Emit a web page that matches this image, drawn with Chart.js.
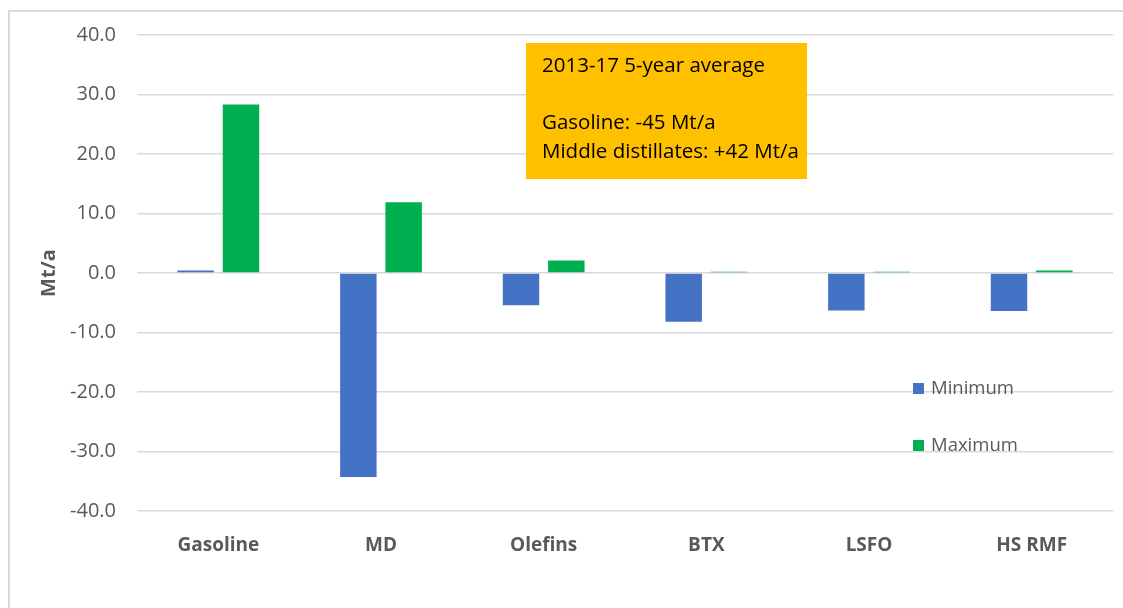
<!DOCTYPE html>
<html>
<head>
<meta charset="utf-8">
<script src="https://cdn.jsdelivr.net/npm/chart.js@4.4.0/dist/chart.umd.min.js"></script>
<style>
  html, body { margin: 0; padding: 0; background: #fff; }
</style>
</head>
<body>
<canvas id="chart" width="1123" height="608"></canvas>
<script>
// product balance swing, Mt/a
var categories = ['Gasoline', 'MD', 'Olefins', 'BTX', 'LSFO', 'HS RMF'];
var minimumValues = [0.4, -34.3, -5.4, -8.2, -6.3, -6.4];
var maximumValues = [28.3, 11.9, 2.1, 0.2, 0.2, 0.4];
var seriesNames = ['Minimum', 'Maximum'];
var yTickValues = [-40, -30, -20, -10, 0, 10, 20, 30, 40];
var axisTitle = 'Mt/a';
var noteLines = ['2013-17 5-year average', '', 'Gasoline: -45 Mt/a', 'Middle distillates: +42 Mt/a'];

var GREY_TEXT = '#595959';
var GRID = '#d9d9d9';
var FONT = "'Open Sans', sans-serif";

// frame, note box and legend drawn on top of the chart
var extras = {
    id: 'extras',
    beforeDraw: function (chart) {
        var c = chart.ctx;
        c.save();
        c.fillStyle = '#fff';
        c.fillRect(0, 0, chart.width, chart.height);
        c.strokeStyle = GRID;
        c.lineWidth = 2;
        c.beginPath();
        c.moveTo(9, chart.height);
        c.lineTo(9, 11);
        c.lineTo(chart.width, 11);
        c.stroke();
        c.restore();
    },
    afterDraw: function (chart) {
        var c = chart.ctx;
        c.save();
        // note box
        c.fillStyle = '#FFC000';
        c.fillRect(526, 43, 281, 136);
        c.fillStyle = '#000';
        c.font = '20.5px ' + FONT;
        c.textBaseline = 'alphabetic';
        c.textAlign = 'left';
        noteLines.forEach(function (line, i) {
            c.fillText(line, 542, 72 + i * 28.5);
        });
        // legend
        c.font = '18.5px ' + FONT;
        chart.data.datasets.forEach(function (ds, i) {
            var y = 389 + i * 57;
            c.fillStyle = ds.backgroundColor;
            c.fillRect(913, y - 6, 11, 11);
            c.fillStyle = GREY_TEXT;
            c.textBaseline = 'middle';
            c.fillText(ds.label, 931, y);
        });
        c.restore();
    }
};

var ctx = document.getElementById('chart').getContext('2d');
var chart = new Chart(ctx, {
    type: 'bar',
    data: {
        labels: categories,
        datasets: [
            {
                label: seriesNames[0],
                data: minimumValues,
                backgroundColor: '#4472C4'
            },
            {
                label: seriesNames[1],
                data: maximumValues,
                backgroundColor: '#00B050'
            }
        ]
    },
    options: {
        responsive: false,
        animation: false,
        devicePixelRatio: 1,
        categoryPercentage: 0.557,
        barPercentage: 0.805,
        layout: { padding: { top: 35, right: 10, bottom: 0, left: 0 } },
        plugins: {
            legend: { display: false },
            tooltip: { enabled: false }
        },
        scales: {
            x: {
                grid: { display: false, drawTicks: false },
                border: { display: false },
                ticks: {
                    color: GREY_TEXT,
                    padding: 23,
                    font: { family: FONT, size: 19, weight: 'bold' }
                },
                afterFit: function (scale) { scale.height = 97; }
            },
            y: {
                min: -40,
                max: 40,
                afterBuildTicks: function (scale) {
                    scale.ticks = yTickValues.map(function (v) { return { value: v }; });
                },
                grid: { color: GRID, lineWidth: 1.5, drawTicks: false },
                border: { display: false },
                ticks: {
                    color: GREY_TEXT,
                    padding: 21,
                    font: { family: FONT, size: 20 },
                    callback: function (v) { return Number(v).toFixed(1); }
                },
                title: {
                    display: true,
                    text: axisTitle,
                    color: GREY_TEXT,
                    font: { family: FONT, size: 20, weight: 'bold' },
                    padding: { top: 37, bottom: 0 }
                },
                afterFit: function (scale) { scale.width = 137; }
            }
        }
    },
    plugins: [extras]
});
</script>
</body>
</html>
